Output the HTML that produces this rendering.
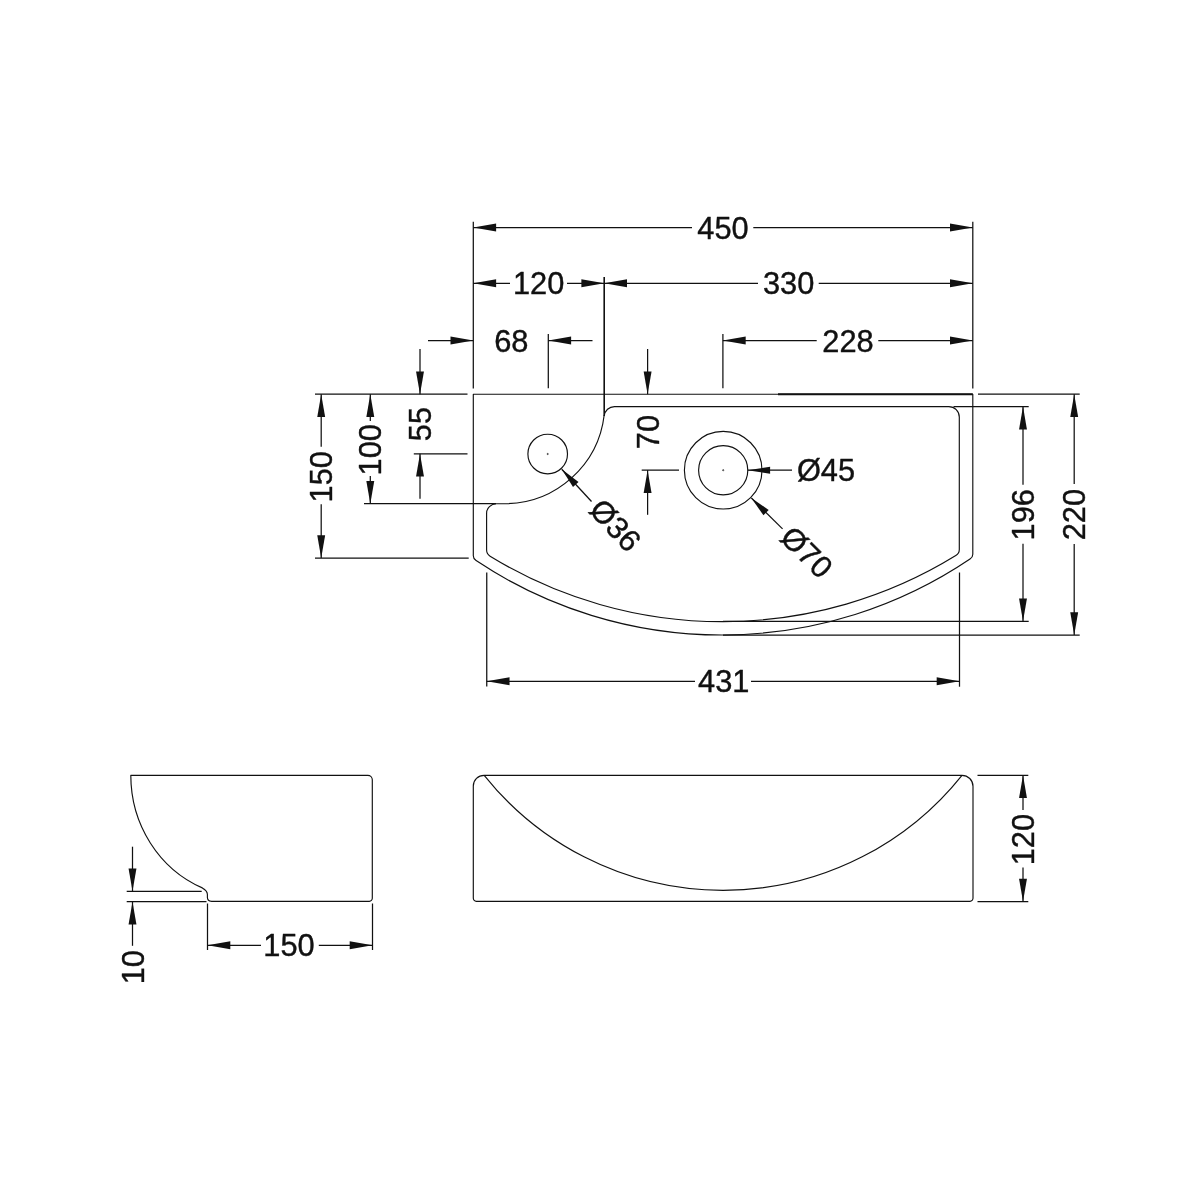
<!DOCTYPE html>
<html><head><meta charset="utf-8"><title>Basin dimensions</title>
<style>
html,body{margin:0;padding:0;background:#fff;}
body{width:1200px;height:1200px;overflow:hidden;}
svg{display:block;will-change:transform;}
svg line,svg path,svg circle{stroke:#111;fill:none;stroke-linecap:butt;stroke-linejoin:round;}
svg .ar{fill:#111;stroke:none;}
svg text{font-family:"Liberation Sans",sans-serif;fill:#111;stroke:#111;stroke-width:0.4px;stroke-linejoin:round;}
</style></head><body>
<svg width="1200" height="1200" viewBox="0 0 1200 1200">
<rect x="0" y="0" width="1200" height="1200" fill="#fff" stroke="none"/>
<line x1="473.30" y1="221.70" x2="473.30" y2="388.60" stroke-width="1.25"/>
<line x1="972.80" y1="221.70" x2="972.80" y2="388.60" stroke-width="1.25"/>
<line x1="473.30" y1="227.50" x2="692.00" y2="227.50" stroke-width="1.25"/>
<line x1="753.30" y1="227.50" x2="972.80" y2="227.50" stroke-width="1.25"/>
<polygon class="ar" points="473.30,227.50 496.10,223.55 496.10,231.45"/>
<polygon class="ar" points="972.80,227.50 950.00,231.45 950.00,223.55"/>
<text transform="translate(723.00,227.50) rotate(0)" x="0" y="11.03" text-anchor="middle" font-size="30.8">450</text>
<line x1="473.30" y1="283.30" x2="510.00" y2="283.30" stroke-width="1.25"/>
<line x1="567.00" y1="283.30" x2="604.20" y2="283.30" stroke-width="1.25"/>
<polygon class="ar" points="473.30,283.30 496.10,279.35 496.10,287.25"/>
<polygon class="ar" points="604.20,283.30 581.40,287.25 581.40,279.35"/>
<text transform="translate(538.60,283.30) rotate(0)" x="0" y="11.03" text-anchor="middle" font-size="30.8">120</text>
<line x1="604.20" y1="283.30" x2="758.00" y2="283.30" stroke-width="1.25"/>
<line x1="818.70" y1="283.30" x2="972.80" y2="283.30" stroke-width="1.25"/>
<polygon class="ar" points="604.20,283.30 627.00,279.35 627.00,287.25"/>
<polygon class="ar" points="972.80,283.30 950.00,287.25 950.00,279.35"/>
<text transform="translate(788.60,283.30) rotate(0)" x="0" y="11.03" text-anchor="middle" font-size="30.8">330</text>
<line x1="604.20" y1="277.00" x2="604.20" y2="416.00" stroke-width="1.6"/>
<line x1="428.00" y1="340.50" x2="473.30" y2="340.50" stroke-width="1.25"/>
<polygon class="ar" points="473.30,340.50 450.50,344.45 450.50,336.55"/>
<polygon class="ar" points="548.30,340.50 571.10,336.55 571.10,344.45"/>
<line x1="548.30" y1="340.50" x2="592.50" y2="340.50" stroke-width="1.25"/>
<text transform="translate(511.25,340.50) rotate(0)" x="0" y="11.03" text-anchor="middle" font-size="30.8">68</text>
<line x1="548.30" y1="334.00" x2="548.30" y2="388.30" stroke-width="1.25"/>
<line x1="722.90" y1="334.00" x2="722.90" y2="388.30" stroke-width="1.25"/>
<line x1="722.90" y1="340.50" x2="816.70" y2="340.50" stroke-width="1.25"/>
<line x1="878.30" y1="340.50" x2="972.80" y2="340.50" stroke-width="1.25"/>
<polygon class="ar" points="722.90,340.50 745.70,336.55 745.70,344.45"/>
<polygon class="ar" points="972.80,340.50 950.00,344.45 950.00,336.55"/>
<text transform="translate(848.00,340.50) rotate(0)" x="0" y="11.03" text-anchor="middle" font-size="30.8">228</text>
<line x1="647.60" y1="349.00" x2="647.60" y2="394.20" stroke-width="1.25"/>
<polygon class="ar" points="647.60,394.20 643.65,371.40 651.55,371.40"/>
<polygon class="ar" points="647.60,470.20 651.55,493.00 643.65,493.00"/>
<line x1="647.60" y1="470.20" x2="647.60" y2="514.80" stroke-width="1.25"/>
<line x1="641.70" y1="470.20" x2="679.00" y2="470.20" stroke-width="1.25"/>
<text transform="translate(647.60,432.00) rotate(-90)" x="0" y="11.03" text-anchor="middle" font-size="30.8">70</text>
<line x1="420.00" y1="349.00" x2="420.00" y2="394.20" stroke-width="1.25"/>
<polygon class="ar" points="420.00,394.20 416.05,371.40 423.95,371.40"/>
<polygon class="ar" points="420.00,453.80 423.95,476.60 416.05,476.60"/>
<line x1="420.00" y1="453.80" x2="420.00" y2="498.70" stroke-width="1.25"/>
<line x1="413.80" y1="453.80" x2="467.50" y2="453.80" stroke-width="1.25"/>
<text transform="translate(420.00,424.00) rotate(-90)" x="0" y="11.03" text-anchor="middle" font-size="30.8">55</text>
<line x1="315.00" y1="394.20" x2="467.50" y2="394.20" stroke-width="1.25"/>
<line x1="315.00" y1="558.00" x2="468.70" y2="558.00" stroke-width="1.25"/>
<line x1="321.20" y1="394.20" x2="321.20" y2="446.70" stroke-width="1.25"/>
<line x1="321.20" y1="504.20" x2="321.20" y2="558.00" stroke-width="1.25"/>
<polygon class="ar" points="321.20,394.20 325.15,417.00 317.25,417.00"/>
<polygon class="ar" points="321.20,558.00 317.25,535.20 325.15,535.20"/>
<text transform="translate(321.20,476.80) rotate(-90)" x="0" y="11.03" text-anchor="middle" font-size="30.8">150</text>
<line x1="364.00" y1="503.70" x2="496.00" y2="503.70" stroke-width="1.25"/>
<line x1="370.30" y1="394.20" x2="370.30" y2="421.00" stroke-width="1.25"/>
<line x1="370.30" y1="476.00" x2="370.30" y2="503.70" stroke-width="1.25"/>
<polygon class="ar" points="370.30,394.20 374.25,417.00 366.35,417.00"/>
<polygon class="ar" points="370.30,503.70 366.35,480.90 374.25,480.90"/>
<text transform="translate(370.30,449.70) rotate(-90)" x="0" y="11.03" text-anchor="middle" font-size="30.8">100</text>
<line x1="953.50" y1="406.60" x2="1028.70" y2="406.60" stroke-width="1.25"/>
<line x1="723.00" y1="621.30" x2="1028.70" y2="621.30" stroke-width="1.25"/>
<line x1="1023.00" y1="406.60" x2="1023.00" y2="484.70" stroke-width="1.25"/>
<line x1="1023.00" y1="543.70" x2="1023.00" y2="621.30" stroke-width="1.25"/>
<polygon class="ar" points="1023.00,406.60 1026.95,429.40 1019.05,429.40"/>
<polygon class="ar" points="1023.00,621.30 1019.05,598.50 1026.95,598.50"/>
<text transform="translate(1023.00,514.70) rotate(-90)" x="0" y="11.03" text-anchor="middle" font-size="30.8">196</text>
<line x1="978.00" y1="394.20" x2="1079.70" y2="394.20" stroke-width="1.25"/>
<line x1="723.00" y1="635.00" x2="1079.70" y2="635.00" stroke-width="1.25"/>
<line x1="1074.20" y1="394.20" x2="1074.20" y2="484.00" stroke-width="1.25"/>
<line x1="1074.20" y1="544.00" x2="1074.20" y2="635.00" stroke-width="1.25"/>
<polygon class="ar" points="1074.20,394.20 1078.15,417.00 1070.25,417.00"/>
<polygon class="ar" points="1074.20,635.00 1070.25,612.20 1078.15,612.20"/>
<text transform="translate(1074.20,514.60) rotate(-90)" x="0" y="11.03" text-anchor="middle" font-size="30.8">220</text>
<line x1="486.75" y1="572.50" x2="486.75" y2="686.50" stroke-width="1.25"/>
<line x1="959.50" y1="572.50" x2="959.50" y2="686.70" stroke-width="1.25"/>
<line x1="486.75" y1="681.30" x2="695.00" y2="681.30" stroke-width="1.25"/>
<line x1="751.00" y1="681.30" x2="959.50" y2="681.30" stroke-width="1.25"/>
<polygon class="ar" points="486.75,681.30 509.55,677.35 509.55,685.25"/>
<polygon class="ar" points="959.50,681.30 936.70,685.25 936.70,677.35"/>
<text transform="translate(723.70,681.30) rotate(0)" x="0" y="11.03" text-anchor="middle" font-size="30.8">431</text>
<path d="M473.3,394.2 H972.8 V554.14 Q972.8,557.14 970.0,559.05 A443.2,443.2 0 0 1 476.1,560.59 Q473.3,558.71 473.3,555.71 Z" stroke-width="1.15"/>
<path d="M604.2,416 A10.3,10.3 0 0 1 614.5,406.6 H948.8 A10.5,10.5 0 0 1 959.3,417.1 V549.40 Q959.3,553.40 955.8,555.58 A445,445 0 0 1 490.1,556.25 Q486.6,554.09 486.6,550.09 V513.4 A9.7,9.7 0 0 1 496.3,503.7 H505 A100.5,100.5 0 0 0 604.2,415" stroke-width="1.15"/>
<line x1="778.00" y1="394.20" x2="972.80" y2="394.20" stroke-width="1.9"/>
<circle cx="547.7" cy="454" r="19.8" stroke-width="1.15"/>
<circle cx="547.7" cy="454" r="0.6" stroke-width="0.8"/>
<circle cx="723.2" cy="470.2" r="38.8" stroke-width="1.15"/>
<circle cx="723.2" cy="470.2" r="24.6" stroke-width="1.15"/>
<circle cx="723.2" cy="470.2" r="0.6" stroke-width="0.8"/>
<polygon class="ar" points="747.60,470.20 770.10,466.70 770.10,473.70"/>
<line x1="747.60" y1="470.20" x2="792.00" y2="470.20" stroke-width="1.25"/>
<text transform="translate(796.90,470.20) rotate(0)" x="0" y="11.03" text-anchor="start" font-size="30.8">&#216;45</text>
<polygon class="ar" points="751.35,498.05 768.70,509.95 763.42,515.28"/>
<line x1="751.35" y1="498.05" x2="782.55" y2="528.93" stroke-width="1.25"/>
<text transform="translate(786.24,531.40) rotate(44.7)" x="0" y="11.03" text-anchor="start" font-size="30.8">&#216;70</text>
<polygon class="ar" points="561.74,469.21 578.53,481.88 573.02,486.97"/>
<line x1="561.74" y1="469.21" x2="591.51" y2="501.48" stroke-width="1.25"/>
<text transform="translate(595.88,503.55) rotate(47.3)" x="0" y="11.03" text-anchor="start" font-size="30.8">&#216;36</text>
<path d="M367.8,775.3 H130.8 A115.9,121.9 0 0 0 202.3,887.90 Q207.4,890.80 207.4,894.40 V897.6 Q207.4,901.3 211.6,901.3 H369.3 A3,3 0 0 0 372.3,898.3 V779.8 A4.5,4.5 0 0 0 367.8,775.3 Z" stroke-width="1.15"/>
<line x1="126.70" y1="891.30" x2="201.70" y2="891.30" stroke-width="1.25"/>
<line x1="126.70" y1="901.70" x2="206.50" y2="901.70" stroke-width="1.25"/>
<line x1="132.50" y1="846.70" x2="132.50" y2="891.30" stroke-width="1.25"/>
<polygon class="ar" points="132.50,891.30 128.55,868.50 136.45,868.50"/>
<polygon class="ar" points="132.50,901.70 136.45,924.50 128.55,924.50"/>
<line x1="132.50" y1="901.70" x2="132.50" y2="945.80" stroke-width="1.25"/>
<text transform="translate(132.50,967.20) rotate(-90)" x="0" y="11.03" text-anchor="middle" font-size="30.8">10</text>
<line x1="207.50" y1="903.50" x2="207.50" y2="950.00" stroke-width="1.25"/>
<line x1="372.50" y1="903.50" x2="372.50" y2="950.00" stroke-width="1.25"/>
<line x1="207.50" y1="945.30" x2="261.00" y2="945.30" stroke-width="1.25"/>
<line x1="318.80" y1="945.30" x2="372.50" y2="945.30" stroke-width="1.25"/>
<polygon class="ar" points="207.50,945.30 230.30,941.35 230.30,949.25"/>
<polygon class="ar" points="372.50,945.30 349.70,949.25 349.70,941.35"/>
<text transform="translate(289.00,945.30) rotate(0)" x="0" y="11.03" text-anchor="middle" font-size="30.8">150</text>
<path d="M484.1,775.3 H962 A11,11 0 0 1 973,786.3 V898.3 A3,3 0 0 1 970,901.3 H476.3 A3,3 0 0 1 473.3,898.3 V786.0999999999999 A10.8,10.8 0 0 1 484.1,775.3 Z" stroke-width="1.15"/>
<path d="M484.2,775.3 A305.6,305.6 0 0 0 962,775.3" stroke-width="1.15"/>
<line x1="977.50" y1="775.30" x2="1028.30" y2="775.30" stroke-width="1.25"/>
<line x1="977.50" y1="901.50" x2="1028.30" y2="901.50" stroke-width="1.25"/>
<line x1="1023.00" y1="775.30" x2="1023.00" y2="810.00" stroke-width="1.25"/>
<line x1="1023.00" y1="867.50" x2="1023.00" y2="901.50" stroke-width="1.25"/>
<polygon class="ar" points="1023.00,775.30 1026.95,798.10 1019.05,798.10"/>
<polygon class="ar" points="1023.00,901.50 1019.05,878.70 1026.95,878.70"/>
<text transform="translate(1023.00,839.60) rotate(-90)" x="0" y="11.03" text-anchor="middle" font-size="30.8">120</text>
</svg>
</body></html>
